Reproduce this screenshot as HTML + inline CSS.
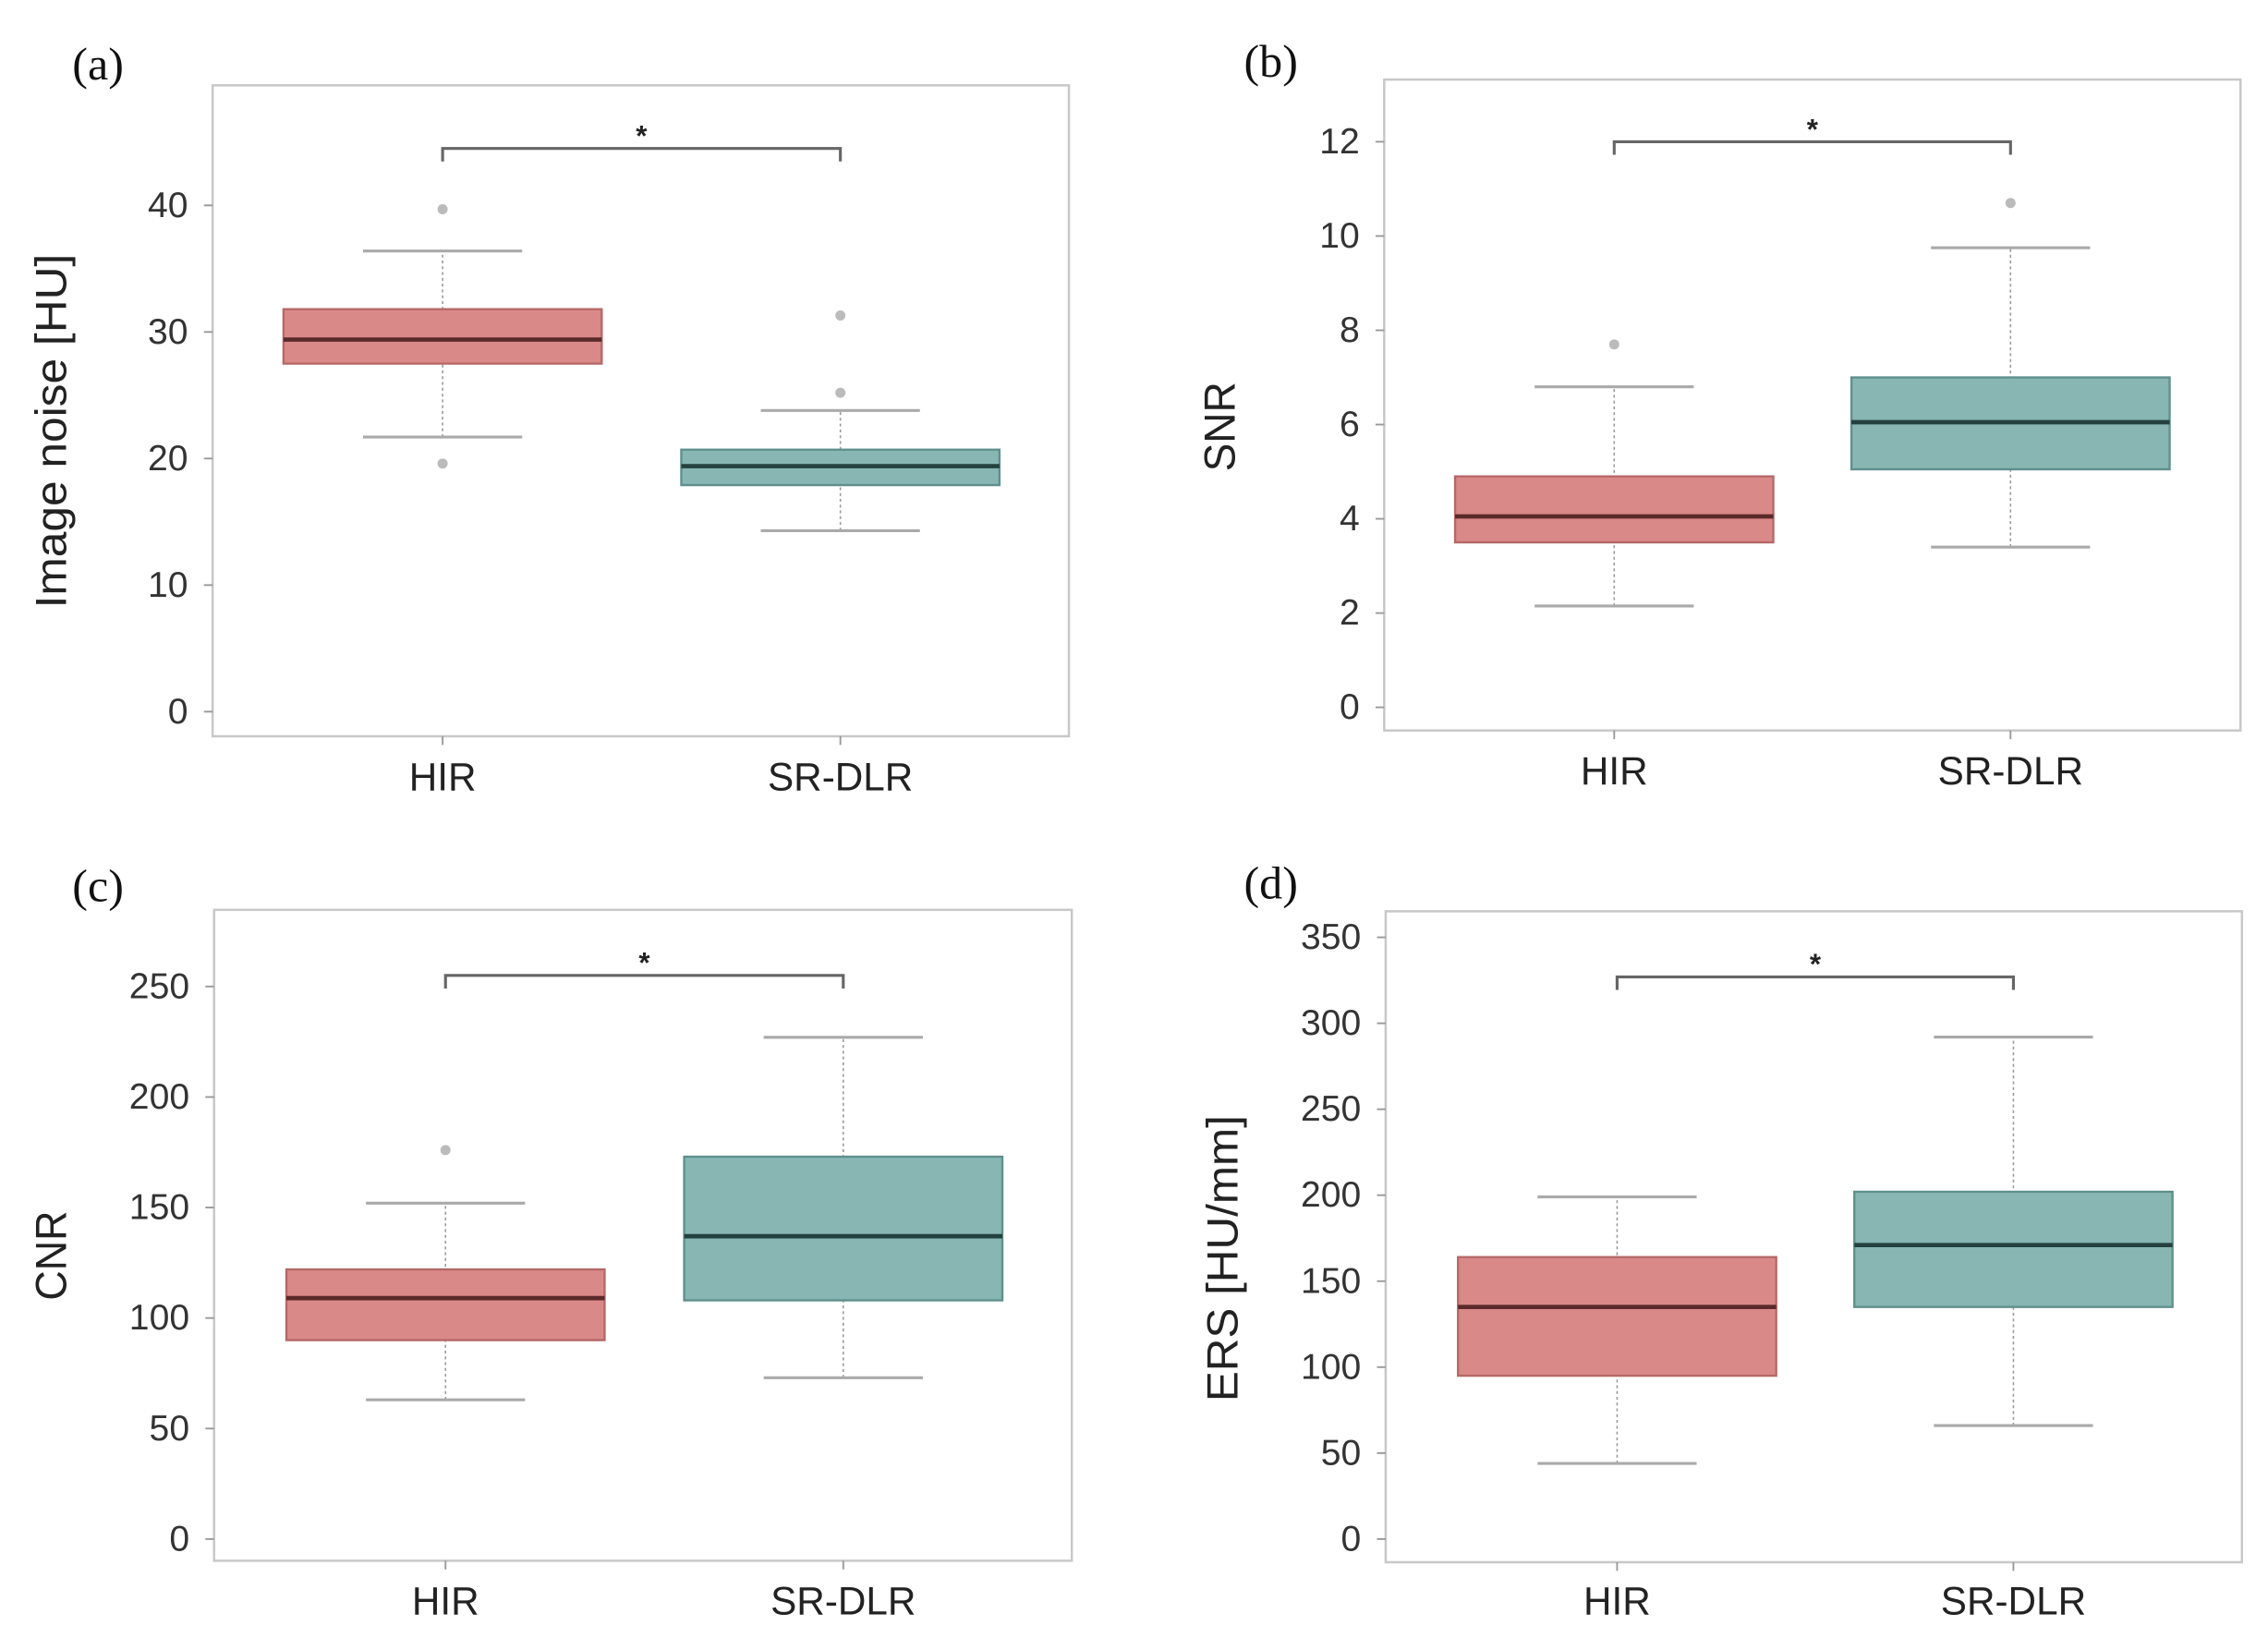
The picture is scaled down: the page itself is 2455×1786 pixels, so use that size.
<!DOCTYPE html>
<html><head><meta charset="utf-8"><style>
html,body{margin:0;padding:0;background:#fff;}
svg{display:block;}
</style></head><body>
<svg id="fig" width="2455" height="1786" viewBox="0 0 1568 1140.7" preserveAspectRatio="none" xmlns="http://www.w3.org/2000/svg"></svg>
<script>
const categories = ["HIR", "SR-DLR"];
const panelLabels = ["(a)", "(b)", "(c)", "(d)"];
const yTitles = ["Image noise [HU]", "SNR", "CNR", "ERS [HU/mm]"];
const ticksA = [0, 10, 20, 30, 40];
const ticksB = [0, 2, 4, 6, 8, 10, 12];
const ticksC = [0, 50, 100, 150, 200, 250];
const ticksD = [0, 50, 100, 150, 200, 250, 300, 350];
// [whiskerLow, q1, median, q3, whiskerHigh]
const statsA = [[21.7, 27.5, 29.4, 31.8, 36.4], [14.3, 17.9, 19.4, 20.7, 23.8]];
const outliersA = [[39.7, 19.6], [31.3, 25.2]];
const statsB = [[2.15, 3.5, 4.05, 4.9, 6.8], [3.4, 5.05, 6.05, 7.0, 9.75]];
const outliersB = [[7.7], [10.7]];
const statsC = [[63, 90, 109, 122, 152], [73, 108, 137, 173, 227]];
const outliersC = [[176], []];
const statsD = [[44, 95, 135, 164, 199], [66, 135, 171, 202, 292]];
const outliersD = [[], []];
const bracketVals = [44.5, 12, 255, 327];

const NS = "http://www.w3.org/2000/svg";
const svg = document.getElementById("fig");
function mk(tag, attrs, parent) {
  const e = document.createElementNS(NS, tag);
  for (const k in attrs) e.setAttribute(k, attrs[k]);
  (parent || svg).appendChild(e);
  return e;
}
const layouts = [
  {x0:147,x1:739,y0:59,y1:509,v0:0,p0:492,v1:40,p1:142,cx:[306,581],lx:50,ly:44,tx:35,ty:298,tl:245,xly:537},
  {x0:957,x1:1549,y0:55,y1:505,v0:0,p0:489,v1:12,p1:98,cx:[1116,1390],lx:860,ly:42,tx:843,ty:295,tl:62,xly:533},
  {x0:148,x1:741,y0:629,y1:1079,v0:0,p0:1064,v1:250,p1:682,cx:[308,583],lx:50,ly:612,tx:35,ty:868,tl:62,xly:1107},
  {x0:958,x1:1550,y0:630,y1:1080,v0:0,p0:1064,v1:350,p1:648,cx:[1118,1392],lx:860,ly:610,tx:845,ty:870,tl:198,xly:1107}
];
const allTicks = [ticksA, ticksB, ticksC, ticksD];
const allStats = [statsA, statsB, statsC, statsD];
const allOut = [outliersA, outliersB, outliersC, outliersD];
const fills = ["#d98988", "#87b6b3"];
const strokes = ["#b56867", "#5f908c"];
const medians = ["#5a2a2a", "#23413f"];
const keys = ["image-noise", "snr", "cnr", "ers"];

layouts.forEach((L, i) => {
  const g = mk("g", {});
  
  
  const y = v => L.p0 + (v - L.v0) * (L.p1 - L.p0) / (L.v1 - L.v0);
  const fr = mk("rect", {x:L.x0, y:L.y0, width:L.x1-L.x0, height:L.y1-L.y0, fill:"none", stroke:"#c8c8c8", "stroke-width":1.6}, g);
  
  
  const pl = mk("text", {x:L.lx, y:L.ly+11, "font-family":"Liberation Serif, serif", "font-size":32, fill:"#111"}, g);
  pl.textContent = panelLabels[i];
  
  
  const yt = mk("text", {x:L.tx, y:L.ty, transform:`rotate(-90 ${L.tx} ${L.ty})`, "text-anchor":"middle", "dominant-baseline":"central", "font-family":"Liberation Sans, sans-serif", "font-size":30, fill:"#222", textLength:L.tl, lengthAdjust:"spacingAndGlyphs"}, g);
  yt.textContent = yTitles[i];
  
  
  allTicks[i].forEach(t => {
    const ty = y(t);
    const tl = mk("line", {x1:L.x0-6, x2:L.x0, y1:ty, y2:ty, stroke:"#999", "stroke-width":1.2}, g);
    
    
    const tx = mk("text", {x:L.x0-17, y:ty, "text-anchor":"end", "dominant-baseline":"central", "font-family":"Liberation Sans, sans-serif", "font-size":25, fill:"#333"}, g);
    tx.textContent = t;
    
    
  });
  categories.forEach((c, j) => {
    const cx = L.cx[j];
    const s = allStats[i][j];
    const xt = mk("line", {x1:cx, x2:cx, y1:L.y1, y2:L.y1+6, stroke:"#999", "stroke-width":1.2}, g);
    
    
    const xl = mk("text", {x:cx, y:L.xly, "text-anchor":"middle", "dominant-baseline":"central", "font-family":"Liberation Sans, sans-serif", "font-size":27, fill:"#222"}, g);
    xl.textContent = c;
    
    
    const w1 = mk("line", {x1:cx, x2:cx, y1:y(s[0]), y2:y(s[4]), stroke:"#999", "stroke-width":1, "stroke-dasharray":"2,2"}, g);
    
    
    [s[0], s[4]].forEach(v => {
      const cap = mk("line", {x1:cx-55, x2:cx+55, y1:y(v), y2:y(v), stroke:"#aaa", "stroke-width":2}, g);
      
      
    });
    const b = mk("rect", {x:cx-110, y:y(s[3]), width:220, height:y(s[1])-y(s[3]), fill:fills[j], stroke:strokes[j], "stroke-width":1.5}, g);
    
    
    const m = mk("line", {x1:cx-110, x2:cx+110, y1:y(s[2]), y2:y(s[2]), stroke:medians[j], "stroke-width":3}, g);
    
    
    allOut[i][j].forEach(v => {
      const o = mk("circle", {cx:cx, cy:y(v), r:3.5, fill:"#bbb"}, g);
      
      
    });
  });
  const by = y(bracketVals[i]);
  const br = mk("path", {d:`M${L.cx[0]} ${by+9} V${by} H${L.cx[1]} V${by+9}`, fill:"none", stroke:"#666", "stroke-width":2}, g);
  
  
  const st = mk("text", {x:(L.cx[0]+L.cx[1])/2, y:by-2, "text-anchor":"middle", "font-family":"Liberation Sans, sans-serif", "font-size":20, "font-weight":"bold", fill:"#222"}, g);
  st.textContent = "*";
  
  
});
</script>
</body></html>
